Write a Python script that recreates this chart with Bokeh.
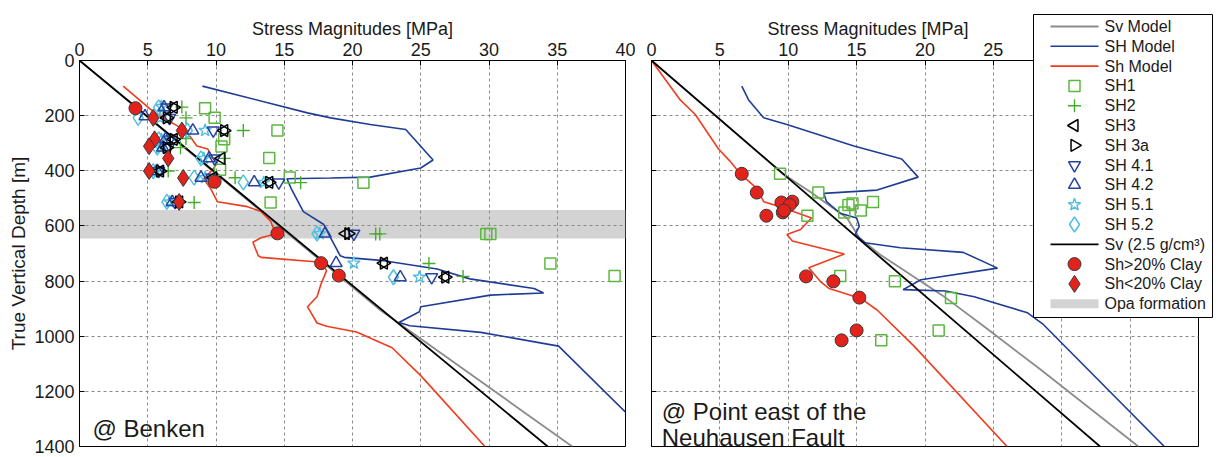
import math
from bokeh.plotting import figure
from bokeh.models import (Label, BoxAnnotation, FixedTicker, CustomJSTickFormatter, GridBox)
from bokeh.core.properties import value
from bokeh.embed import file_html
from bokeh.resources import INLINE

FONT = "Liberation Sans"

# ---------------- data : left panel (Benken) ----------------
x_ticks = [0, 5, 10, 15, 20, 25, 30, 35, 40]
depth_ticks = [0, 200, 400, 600, 800, 1000, 1200, 1400]
opa_top, opa_bottom = 542, 646

bk_sv_model_depth = [0, 900, 1400]
bk_sv_model_val = [0, 21.9, 36.1]

bk_sv25_depth = [0, 1400]
bk_sv25_val = [0, 34.3]

bk_SH_model_depth = [93, 190, 208, 232, 250, 361, 390, 423, 426, 429, 464, 548, 595, 643, 690,
                     708, 714, 726, 756, 792, 827, 843, 851, 893, 911, 950, 962, 986, 1036, 1285]
bk_SH_model_val = [9.0, 16.7, 18.4, 21.3, 23.9, 25.9, 25.0, 21.3, 18.4, 15.2, 15.5, 16.4, 17.9, 18.4, 18.9,
                   19.1, 19.4, 22.3, 26.2, 28.6, 33.3, 34.0, 30.1, 25.0, 24.9, 23.4, 24.2, 29.4, 35.1, 40.2]

bk_Sh_model_depth = [93, 173, 196, 238, 256, 310, 321, 351, 369, 393, 429, 464, 512, 530, 548, 583,
                     607, 631, 643, 659, 708, 714, 732, 762, 810, 857, 893, 952, 964, 985, 1042, 1143, 1400]
bk_Sh_model_val = [3.2, 5.1, 5.7, 7.2, 7.8, 8.6, 9.4, 9.7, 10.1, 9.8, 9.1, 9.6, 10.1, 12.3, 13.3, 14.0,
                   14.2, 14.2, 13.3, 12.7, 13.1, 13.3, 17.7, 18.1, 17.7, 17.4, 16.7, 17.4, 18.1, 20.3, 22.9, 25.0, 29.7]

bk_SH1_depth = [173, 208, 254, 286, 312, 354, 396, 424, 515, 443, 629, 629, 736, 782]
bk_SH1_val = [9.2, 9.9, 14.5, 10.6, 10.4, 13.9, 10.3, 15.4, 14.0, 20.8, 30.1, 29.8, 34.5, 39.2]

bk_SH2_depth = [169, 208, 254, 283, 316, 355, 401, 425, 443, 515, 629, 629, 736, 783]
bk_SH2_val = [7.5, 7.8, 12.0, 7.8, 7.4, 10.6, 6.5, 11.4, 16.2, 8.4, 22.0, 21.7, 25.6, 28.1]

bk_SH3_depth = [170, 208, 254, 286, 316, 355, 401, 425, 442, 513, 628, 735, 786]
bk_SH3_val = [6.9, 6.4, 10.6, 6.9, 6.4, 10.4, 5.9, 9.8, 13.9, 7.3, 19.5, 22.3, 26.8]

bk_SH3a_depth = [170, 208, 254, 286, 316, 401, 442, 513, 628, 735, 786]
bk_SH3a_val = [6.9, 6.4, 10.6, 6.9, 6.4, 5.9, 13.9, 7.3, 19.7, 22.3, 26.8]

bk_SH41_depth = [170, 208, 254, 286, 316, 355, 401, 425, 442, 513, 628, 786]
bk_SH41_val = [6.4, 6.6, 9.8, 6.6, 6.5, 9.9, 5.8, 9.7, 14.6, 7.0, 20.1, 25.8]

bk_SH42_depth = [170, 202, 254, 286, 316, 355, 401, 425, 442, 513, 628, 735, 786]
bk_SH42_val = [6.2, 4.8, 8.3, 6.3, 6.1, 9.5, 5.7, 8.9, 12.8, 6.8, 18.0, 18.8, 23.5]

bk_SH51_depth = [167, 208, 254, 286, 316, 355, 401, 425, 442, 513, 628, 735, 786]
bk_SH51_val = [6.0, 5.9, 9.2, 6.0, 5.9, 9.1, 5.6, 9.2, 13.5, 6.6, 17.6, 20.1, 24.9]

bk_SH52_depth = [170, 208, 254, 286, 316, 355, 401, 425, 442, 513, 628, 786]
bk_SH52_val = [5.8, 4.3, 7.9, 5.8, 5.7, 8.9, 5.4, 8.4, 12.0, 6.4, 17.4, 23.0]

bk_clay_hi_depth = [173, 440, 627, 735, 780]
bk_clay_hi_val = [4.1, 9.9, 14.5, 17.7, 19.0]

bk_clay_lo_depth = [208, 254, 286, 311, 355, 401, 426, 513]
bk_clay_lo_val = [5.4, 7.5, 5.5, 5.1, 6.5, 5.1, 7.6, 7.3]

# ---------------- data : right panel (Neuhausen) ----------------
nh_sv_model_depth = [0, 411, 476, 571, 643, 700, 792, 860, 964, 1119, 1400]
nh_sv_model_val = [0, 9.6, 11.6, 14.3, 15.2, 16.6, 19.4, 21.5, 24.3, 28.4, 35.6]

nh_sv25_depth = [0, 1400]
nh_sv25_val = [0, 32.8]

nh_SH_model_depth = [93, 143, 208, 232, 310, 357, 423, 470, 482, 512, 554, 571, 601, 631, 661, 679,
                     696, 753, 795, 831, 836, 857, 915, 955, 1400]
nh_SH_model_val = [6.6, 7.1, 8.2, 9.9, 14.8, 18.3, 19.5, 16.5, 12.6, 12.8, 13.8, 15.0, 15.2, 14.9, 15.6, 18.2,
                   22.8, 25.3, 19.7, 18.4, 21.5, 23.6, 27.5, 28.6, 37.5]

nh_Sh_model_depth = [0, 143, 196, 321, 363, 411, 464, 512, 530, 571, 613, 631, 655, 702, 752, 804,
                     827, 863, 905, 1036, 1400]
nh_Sh_model_val = [0, 2.1, 3.2, 4.9, 5.7, 6.5, 7.7, 8.2, 9.4, 11.7, 10.9, 9.9, 10.3, 14.1, 11.5, 12.4,
                   13.0, 15.3, 16.5, 19.2, 26.0]

nh_SH1_depth = [411, 479, 563, 524, 519, 513, 551, 544, 782, 801, 861, 979, 1015]
nh_SH1_val = [9.4, 12.2, 11.4, 14.4, 14.7, 16.2, 14.1, 15.3, 13.8, 17.8, 21.9, 21.0, 16.8]

nh_clay_hi_depth = [411, 479, 515, 512, 524, 551, 544, 563, 783, 801, 860, 979, 1015]
nh_clay_hi_val = [6.6, 7.7, 9.5, 10.3, 10.1, 9.6, 9.7, 8.4, 11.3, 13.3, 15.2, 15.0, 13.9]

legend_labels = ["Sv Model", "SH Model", "Sh Model", "SH1", "SH2", "SH3", "SH 3a", "SH 4.1",
                 "SH 4.2", "SH 5.1", "SH 5.2", "Sv (2.5 g/cm³)", "Sh>20% Clay", "Sh<20% Clay",
                 "Opa formation"]
legend_keys = ["L_GRAY", "L_BLUE", "L_RED", "S_SH1", "S_SH2", "S_SH3", "S_SH3a", "S_SH41",
               "S_SH42", "S_SH51", "S_SH52", "L_BLACK", "S_HI", "S_LO", "L_OPA"]

# ---------------- styles ----------------
C_GRAY = "#8c8c8c"
C_BLUE = "#1f3d96"
C_RED = "#f03c1e"
C_GREEN_SQ = "#5bb83f"
C_GREEN_PL = "#46ad2a"
C_TRI = "#2743a0"
C_LB = "#52bfe0"
C_FILL = "#e3221c"
C_OPA = "#d3d3d3"
TXT = "#1a1a1a"

STYLES = {
    "S_SH1": dict(marker="square", size=11, fill_color=None, line_color=C_GREEN_SQ, line_width=1.5),
    "S_SH2": dict(marker="cross", size=13, line_color=C_GREEN_PL, line_width=1.4),
    "S_SH3": dict(marker="triangle", angle=math.pi / 2, size=12, fill_color=None, line_color="black", line_width=1.5),
    "S_SH3a": dict(marker="triangle", angle=-math.pi / 2, size=12, fill_color=None, line_color="black", line_width=1.5),
    "S_SH41": dict(marker="inverted_triangle", size=12, fill_color=None, line_color=C_TRI, line_width=1.5),
    "S_SH42": dict(marker="triangle", size=12, fill_color=None, line_color=C_TRI, line_width=1.5),
    "S_SH51": dict(marker="star", size=13, fill_color=None, line_color=C_LB, line_width=1.4),
    "S_SH52": dict(marker="diamond", size=15, fill_color=None, line_color=C_LB, line_width=1.5),
    "S_HI": dict(marker="circle", size=13, fill_color=C_FILL, line_color="#3a3a3a", line_width=1),
    "S_LO": dict(marker="diamond", size=17, fill_color=C_FILL, line_color="#3a3a3a", line_width=1),
    "L_GRAY": dict(line_color=C_GRAY, line_width=1.8),
    "L_BLUE": dict(line_color=C_BLUE, line_width=1.6),
    "L_RED": dict(line_color=C_RED, line_width=1.6),
    "L_BLACK": dict(line_color="black", line_width=1.8),
    "L_OPA": dict(line_color=C_OPA, line_width=9),
}

FRAME_TOP = 60
FRAME_BOTTOM_PAD = 11
FIG_H = 457


def style(p, show_ylabels):
    p.xaxis.ticker = FixedTicker(ticks=x_ticks)
    p.yaxis.ticker = FixedTicker(ticks=depth_ticks)
    for ax in (p.xaxis[0], p.yaxis[0]):
        ax.major_tick_in = 5
        ax.major_tick_out = 0
        ax.minor_tick_line_color = None
        ax.axis_line_color = "black"
        ax.major_tick_line_color = "black"
        ax.major_label_text_font = FONT
        ax.major_label_text_font_size = "18px"
        ax.major_label_text_color = TXT
        ax.major_label_standoff = 5
    if not show_ylabels:
        p.yaxis[0].formatter = CustomJSTickFormatter(code="return ''")
        p.yaxis[0].major_label_standoff = 0
    p.grid.grid_line_color = "#8a8a8a"
    p.grid.grid_line_dash = "3 3"
    p.grid.grid_line_width = 1
    p.outline_line_color = "black"
    p.outline_line_width = 1
    p.background_fill_color = "white"
    p.border_fill_color = "white"
    p.title.text_font = FONT
    p.title.text_font_size = "18px"
    p.title.text_font_style = "normal"
    p.title.text_color = TXT
    p.title.standoff = 2


# ---------------- left panel ----------------
p1 = figure(width=638, height=FIG_H, x_range=(0, 40), y_range=(1400, 0),
            x_axis_location="above", title="Stress Magnitudes [MPa]",
            output_backend="svg", toolbar_location=None,
            min_border_left=79, min_border_right=13, min_border_top=FRAME_TOP,
            min_border_bottom=FRAME_BOTTOM_PAD)
style(p1, True)
p1.title.align = "center"
p1.yaxis.axis_label = "True Vertical Depth [m]"
p1.yaxis.axis_label_text_font = FONT
p1.yaxis.axis_label_text_font_size = "19px"
p1.yaxis.axis_label_text_font_style = "normal"
p1.yaxis.axis_label_text_color = TXT
p1.yaxis.axis_label_standoff = 2

p1.add_layout(BoxAnnotation(top=opa_top, bottom=opa_bottom, fill_color=C_OPA, fill_alpha=1,
                            line_color=None, level="image"))

p1.line(bk_sv_model_val, bk_sv_model_depth, **STYLES["L_GRAY"])
p1.line(bk_SH_model_val, bk_SH_model_depth, **STYLES["L_BLUE"])
p1.line(bk_Sh_model_val, bk_Sh_model_depth, **STYLES["L_RED"])
p1.line(bk_sv25_val, bk_sv25_depth, **STYLES["L_BLACK"])

p1.scatter(bk_SH1_val, bk_SH1_depth, **STYLES["S_SH1"])
p1.scatter(bk_SH2_val, bk_SH2_depth, **STYLES["S_SH2"])
p1.scatter(bk_SH52_val, bk_SH52_depth, **STYLES["S_SH52"])
p1.scatter(bk_SH51_val, bk_SH51_depth, **STYLES["S_SH51"])
p1.scatter(bk_SH42_val, bk_SH42_depth, **STYLES["S_SH42"])
p1.scatter(bk_SH41_val, bk_SH41_depth, **STYLES["S_SH41"])
p1.scatter(bk_SH3_val, bk_SH3_depth, **STYLES["S_SH3"])
p1.scatter(bk_SH3a_val, bk_SH3a_depth, **STYLES["S_SH3a"])
p1.scatter(bk_clay_lo_val, bk_clay_lo_depth, **STYLES["S_LO"])
p1.scatter(bk_clay_hi_val, bk_clay_hi_depth, **STYLES["S_HI"])

p1.add_layout(Label(x=0.95, y=1335, text="@ Benken", text_font=FONT, text_font_size="24px",
                    text_color=TXT, text_baseline="alphabetic"))

# ---------------- right panel ----------------
p2 = figure(width=583, height=FIG_H, x_range=(0, 40), y_range=(1400, 0),
            x_axis_location="above", title="Stress Magnitudes [MPa]",
            output_backend="svg", toolbar_location=None,
            min_border_left=13, min_border_right=23, min_border_top=FRAME_TOP,
            min_border_bottom=FRAME_BOTTOM_PAD)
style(p2, False)
p2.xaxis.major_label_overrides = {30: "", 35: "", 40: ""}   # hidden under the legend box
p2.title.align = "left"
p2.title.offset = 116

p2.line(nh_sv_model_val, nh_sv_model_depth, **STYLES["L_GRAY"])
p2.line(nh_SH_model_val, nh_SH_model_depth, **STYLES["L_BLUE"])
p2.line(nh_Sh_model_val, nh_Sh_model_depth, **STYLES["L_RED"])
p2.line(nh_sv25_val, nh_sv25_depth, **STYLES["L_BLACK"])
p2.scatter(nh_SH1_val, nh_SH1_depth, **STYLES["S_SH1"])
p2.scatter(nh_clay_hi_val, nh_clay_hi_depth, **STYLES["S_HI"])

p2.add_layout(Label(x=0.75, y=1272, text="@ Point east of the", text_font=FONT, text_font_size="24px",
                    text_color=TXT, text_baseline="alphabetic"))
p2.add_layout(Label(x=0.75, y=1366, text="Neuhausen Fault", text_font=FONT, text_font_size="24px",
                    text_color=TXT, text_baseline="alphabetic"))

# ---------------- legend box (overlaid on the right panel) ----------------
LEG_W, LEG_H = 180, 304
pl = figure(width=LEG_W, height=LEG_H, x_range=(0, LEG_W), y_range=(LEG_H, 0), title=None,
            x_axis_type=None, y_axis_type=None, output_backend="svg", toolbar_location=None,
            min_border_left=0, min_border_right=0, min_border_top=0, min_border_bottom=0)
pl.outline_line_color = "black"
pl.outline_line_width = 1
pl.background_fill_color = "white"
pl.border_fill_color = "white"

row_gap = 19.8
leg_y = [12 + row_gap * i for i in range(len(legend_labels))]
for key, yy in zip(legend_keys, leg_y):
    st = STYLES[key]
    if key.startswith("L_"):
        pl.segment(x0=[17], y0=[yy], x1=[65], y1=[yy], **st)
    else:
        pl.scatter([41], [yy], **st)
pl.text(x=[71] * len(legend_labels), y=leg_y, text=legend_labels, text_font=value(FONT),
        text_font_size="16px", text_color=TXT, text_baseline="middle", text_align="left")

grid = GridBox(children=[(p1, 0, 0, 3, 1), (p2, 0, 1, 3, 3), (pl, 1, 2, 1, 1)],
               cols=["638px", "395px", "180px", "8px"], rows=["14px", "304px", "139px"], spacing=0)

open("out.html", "w").write(file_html(grid, INLINE))
